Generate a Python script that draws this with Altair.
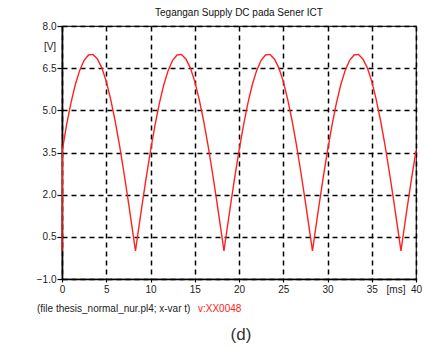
import altair as alt
import pandas as pd

title_text = "Tegangan Supply DC pada Sener ICT"
y_ticks = [-1.0, 0.5, 2.0, 3.5, 5.0, 6.5, 8.0]
x_ticks = [0, 5, 10, 15, 20, 25, 30, 35, 40]

t_ms = ([0, 0.05] + [0.5, 1, 1.5, 2, 2.5, 3, 3.5, 4, 4.5, 5, 5.5, 6, 6.5, 7, 7.5, 8, 8.3, 8.5, 9, 9.5]
        + [10, 10.5, 11, 11.5, 12, 12.5, 13, 13.5, 14, 14.5, 15, 15.5, 16, 16.5, 17, 17.5, 18, 18.3, 18.5, 19, 19.5]
        + [20, 20.5, 21, 21.5, 22, 22.5, 23, 23.5, 24, 24.5, 25, 25.5, 26, 26.5, 27, 27.5, 28, 28.3, 28.5, 29, 29.5]
        + [30, 30.5, 31, 31.5, 32, 32.5, 33, 33.5, 34, 34.5, 35, 35.5, 36, 36.5, 37, 37.5, 38, 38.3, 38.5, 39, 39.5]
        + [40])
v_volt = ([0.0, 3.6] + [4.46, 5.25, 5.91, 6.42, 6.78, 6.97, 6.99, 6.83, 6.51, 6.03, 5.39, 4.63, 3.75, 2.78, 1.74, 0.66, 0.0, 0.44, 1.53, 2.58]
          + [3.56, 4.46, 5.25, 5.91, 6.42, 6.78, 6.97, 6.99, 6.83, 6.51, 6.03, 5.39, 4.63, 3.75, 2.78, 1.74, 0.66, 0.0, 0.44, 1.53, 2.58]
          + [3.56, 4.46, 5.25, 5.91, 6.42, 6.78, 6.97, 6.99, 6.83, 6.51, 6.03, 5.39, 4.63, 3.75, 2.78, 1.74, 0.66, 0.0, 0.44, 1.53, 2.58]
          + [3.56, 4.46, 5.25, 5.91, 6.42, 6.78, 6.97, 6.99, 6.83, 6.51, 6.03, 5.39, 4.63, 3.75, 2.78, 1.74, 0.66, 0.0, 0.44, 1.53, 2.58]
          + [3.56])

df = pd.DataFrame({"t": t_ms, "v": v_volt})

FONT = "Liberation Sans Narrow, Liberation Sans, Arial, sans-serif"
W, H = 354, 253

line = alt.Chart(df).mark_line(color="#ff2020", strokeWidth=1.4).encode(
    x=alt.X("t:Q", scale=alt.Scale(domain=[0, 40], nice=False, zero=False),
            axis=alt.Axis(values=x_ticks, title=None, format="d", tickSize=3, labelPadding=2,
                          labelFlush=False, grid=True)),
    y=alt.Y("v:Q", scale=alt.Scale(domain=[-1, 8], nice=False, zero=False),
            axis=alt.Axis(values=y_ticks, title=None, format=".1f", tickSize=5, labelPadding=1,
                          labelFlush=False, grid=True)),
)

one = pd.DataFrame({"k": [0]})

def txt(s, x, y, size=9, color="#222222", align="left"):
    return alt.Chart(one).mark_text(text=s, font=FONT, fontSize=size, color=color,
                                    align=align, baseline="middle").encode(
        x=alt.value(x), y=alt.value(y))

layers = [
    line,
    txt("[V]", -12, 21, size=10, align="center"),
    txt("[ms]", 334, 264, size=10, align="center"),
    txt("(file thesis_normal_nur.pl4; x-var t)", -25, 283, size=10),
    txt("v:XX0048", 136, 283, size=10, color="#ff2020"),
    txt("(d)", 179, 309, size=17, color="#333333", align="center"),
]

chart = alt.layer(*layers).properties(
    width=W, height=H,
    title=alt.TitleParams(title_text, font=FONT, fontSize=10, fontWeight="normal",
                          color="#111111", anchor="middle", offset=3),
    autosize=alt.AutoSizeParams(type="none"),
    padding={"left": 62, "top": 26, "right": 11, "bottom": 70},
    background="white",
).configure_view(
    stroke="#222222", strokeWidth=1.2
).configure_axis(
    domainColor="#000000", domainWidth=1.6,
    tickColor="#000000", tickWidth=1.2,
    gridColor="#000000", gridDash=[5, 4], gridWidth=1.5, gridOpacity=1,
    labelFont=FONT, labelFontSize=10, labelColor="#222222",
)

chart.save("out.html", embed_options={"renderer": "svg", "actions": False})
